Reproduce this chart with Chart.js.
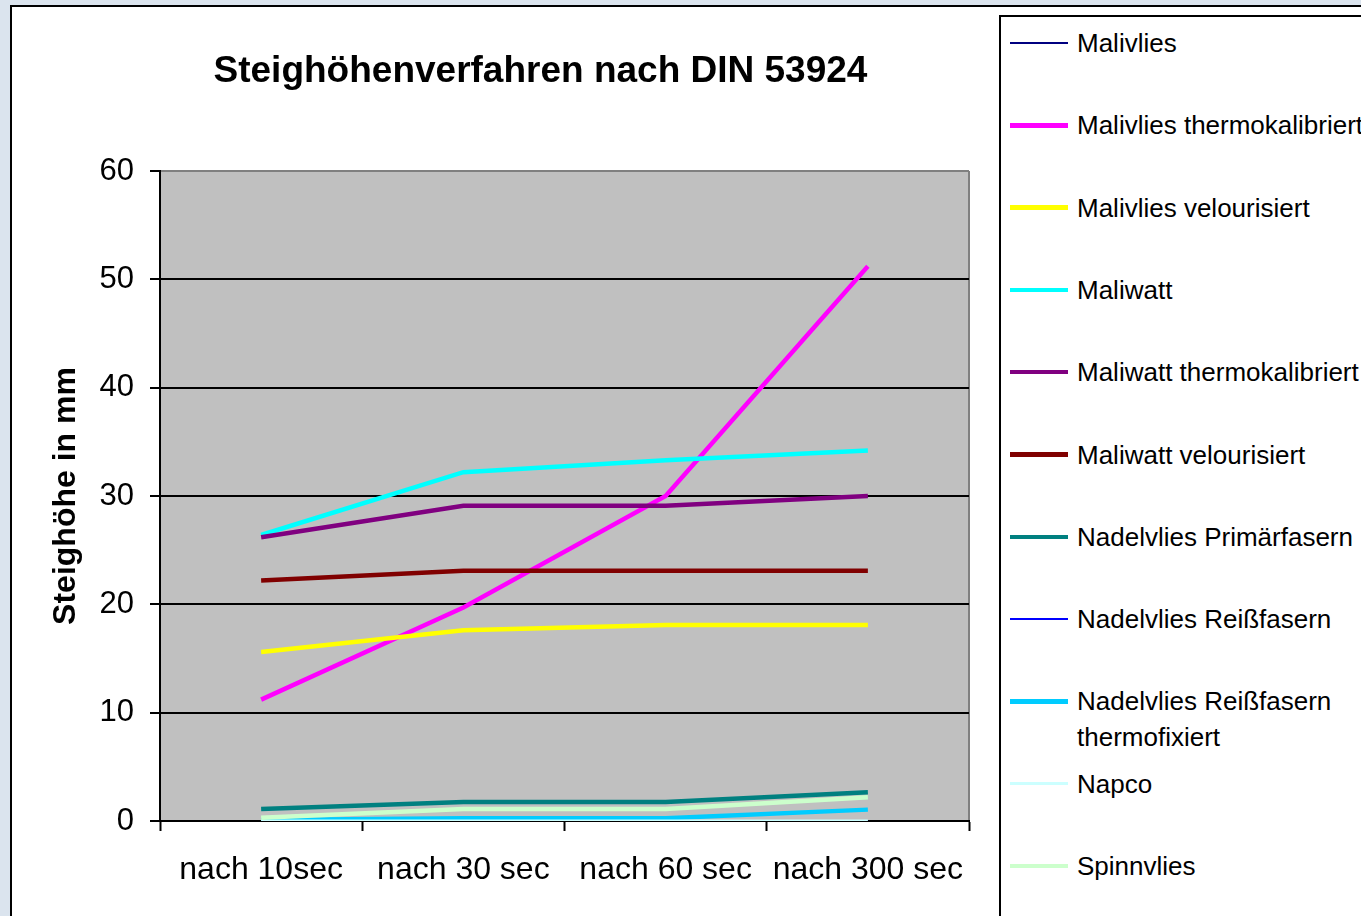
<!DOCTYPE html>
<html>
<head>
<meta charset="utf-8">
<script src="https://cdn.jsdelivr.net/npm/chart.js@4.4.1/dist/chart.umd.min.js"></script>
<style>
  html, body { margin: 0; padding: 0; }
  body {
    width: 1361px; height: 916px; overflow: hidden; position: relative;
    background: #dbe4ee;
    font-family: "Liberation Sans", Arial, sans-serif;
  }
  #panel {
    position: absolute; left: 10px; top: 5px; width: 1400px; height: 1000px;
    background: #fff; border-left: 2px solid #000; border-top: 2px solid #000;
  }
  #chart { position: absolute; left: 0; top: 0; }
  #title {
    position: absolute; left: 0; width: 1081px; top: 48px;
    text-align: center; font-weight: bold; font-size: 37px; line-height: 44px; color: #000;
  }
  #legend {
    position: absolute; left: 999px; top: 15px; width: 400px; height: 1000px;
    background: #fff; border-left: 2px solid #000; border-top: 2px solid #000;
  }
  .item { position: absolute; left: 0; height: 36px; }
  .swatch { position: absolute; left: 9px; width: 58px; }
  .txt {
    position: absolute; left: 76px; top: 0; white-space: pre;
    font-size: 26px; line-height: 36px; color: #000;
  }
</style>
</head>
<body>
<div id="panel"></div>
<canvas id="chart" width="990" height="916"></canvas>
<div id="title">Steighöhenverfahren nach DIN 53924</div>
<div id="legend"></div>

<script>
// === Daten ===
const categories = ['nach 10sec', 'nach 30 sec', 'nach 60 sec', 'nach 300 sec'];

const seriesNames = [
  'Malivlies',
  'Malivlies thermokalibriert',
  'Malivlies velourisiert',
  'Maliwatt',
  'Maliwatt thermokalibriert',
  'Maliwatt velourisiert',
  'Nadelvlies Primärfasern',
  'Nadelvlies Reißfasern',
  'Nadelvlies Reißfasern\nthermofixiert',
  'Napco',
  'Spinnvlies'
];

const malivlies        = [0, 0, 0, 0];
const malivliesThermo  = [11.2, 19.7, 30.0, 51.2];
const malivliesVelour  = [15.6, 17.6, 18.1, 18.1];
const maliwatt         = [26.4, 32.2, 33.3, 34.2];
const maliwattThermo   = [26.2, 29.1, 29.1, 30.0];
const maliwattVelour   = [22.2, 23.1, 23.1, 23.1];
const nadelPrimaer     = [1.1, 1.75, 1.75, 2.65];
const nadelReiss       = [0, 0, 0, 0];
const nadelReissThermo = [0.1, 0.25, 0.25, 1.05];
const napco            = [0, 0, 0, 0];
const spinnvlies       = [0.3, 1.1, 1.1, 2.2];

const yMin = 0, yMax = 60, yStep = 10;

// === Stil ===
const colors = ['#000080', '#ff00ff', '#ffff00', '#00ffff', '#800080', '#800000',
                '#008080', '#0000ff', '#00ccff', '#ccffff', '#ccffcc'];
const widths = [2, 4.5, 4.5, 4.5, 4.5, 4.5, 4.5, 2, 4.5, 3, 4.5];

const allValues = [malivlies, malivliesThermo, malivliesVelour, maliwatt, maliwattThermo,
  maliwattVelour, nadelPrimaer, nadelReiss, nadelReissThermo, napco, spinnvlies];

const FONT = '"Liberation Sans", Arial, sans-serif';

// graue Zeichenfläche wie in Excel
const plotBg = {
  id: 'plotBg',
  beforeDraw(chart) {
    const { ctx, chartArea: a } = chart;
    ctx.save();
    ctx.fillStyle = '#c0c0c0';
    ctx.fillRect(a.left, a.top, a.right - a.left, a.bottom - a.top);
    ctx.strokeStyle = '#808080';
    ctx.lineWidth = 2;
    ctx.beginPath();
    ctx.moveTo(a.right, a.top);
    ctx.lineTo(a.right, a.bottom);
    ctx.stroke();
    ctx.restore();
  }
};

const ctx = document.getElementById('chart').getContext('2d');
const chart = new Chart(ctx, {
  type: 'line',
  data: {
    labels: categories,
    datasets: seriesNames.map((name, i) => ({
      label: name,
      data: allValues[i],
      borderColor: colors[i],
      backgroundColor: colors[i],
      borderWidth: widths[i],
      pointRadius: 0,
      tension: 0,
      order: -i
    }))
  },
  options: {
    responsive: false,
    animation: false,
    layout: { padding: { left: 47, right: 21, top: 171, bottom: 0 } },
    plugins: {
      legend: { display: false },
      title: { display: false },
      tooltip: { enabled: false }
    },
    scales: {
      x: {
        offset: true,
        grid: { offset: true, drawOnChartArea: false, drawTicks: true, tickLength: 10, tickColor: '#000', tickWidth: 2 },
        border: { color: '#000', width: 2 },
        ticks: { color: '#000', font: { family: FONT, size: 32 }, padding: 20, maxRotation: 0, autoSkip: false },
        afterFit(s) { s.height = 95; }
      },
      y: {
        min: yMin, max: yMax,
        ticks: { stepSize: yStep, color: '#000', font: { family: FONT, size: 31 }, padding: 16 },
        grid: {
          color: c => (c.tick && c.tick.value === yMax) ? '#808080' : '#000',
          lineWidth: 2, tickLength: 10, tickColor: '#000', tickWidth: 2
        },
        border: { color: '#000', width: 2 },
        title: { display: true, text: 'Steighöhe in mm', color: '#000', padding: 0,
                 font: { family: FONT, size: 32, weight: 'bold' } },
        afterFit(s) { s.width = 113; }
      }
    }
  },
  plugins: [plotBg]
});

// === Legende ===
const legend = document.getElementById('legend');
seriesNames.forEach((name, i) => {
  const cy = 43 + i * 82.3 - 17;   // Mitte der ersten Zeile, relativ zur Box
  const item = document.createElement('div');
  item.className = 'item';
  item.style.top = (cy - 18) + 'px';
  const sw = document.createElement('div');
  sw.className = 'swatch';
  sw.style.height = widths[i] + 'px';
  sw.style.top = (18 - widths[i] / 2) + 'px';
  sw.style.background = colors[i];
  const tx = document.createElement('div');
  tx.className = 'txt';
  tx.textContent = name;
  item.appendChild(sw);
  item.appendChild(tx);
  legend.appendChild(item);
});
</script>
</body>
</html>
